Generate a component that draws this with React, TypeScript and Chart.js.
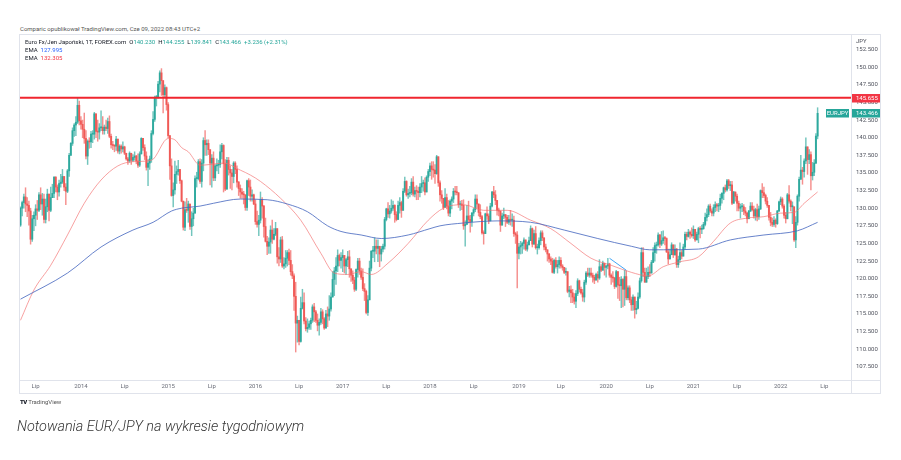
import React, { useEffect, useRef } from 'react';
import { Chart, registerables } from 'chart.js';

Chart.register(...registerables);

// ---------- data (weekly EUR/JPY candles, first week starts 2013-04-29) ----------
const START_UTC = Date.UTC(2013, 3, 29);
const WEEK_MS = 7 * 86400000;
const firstOpen = 127.6;

const closes: number[] = [
  // 2013
  130.0, 130.8, 131.6, 130.6, 130.4, 129.6, 125.6, 128.5, 129.0, 129.9, 129.7, 131.9, 130.6, 131.3, 128.4, 130.2, 132.0, 129.7,
  131.5, 132.1, 134.4, 133.0, 132.3, 133.5, 133.7, 134.5, 133.0, 132.4, 135.3, 137.5, 139.2, 141.0, 141.8, 142.2, 144.6, 142.4,
  // 2014
  141.9, 141.2, 139.9, 137.4, 139.5, 139.4, 140.5, 140.5, 143.4, 140.9, 140.8, 141.4, 141.5, 141.0, 141.5, 141.3, 142.3,
  140.2, 139.0, 138.9, 138.8, 139.8, 138.1, 138.8, 138.4, 138.7, 137.8, 137.0, 136.7, 137.8, 136.8, 137.2, 137.4, 136.7,
  136.1, 137.7, 139.9, 138.6, 137.4, 135.8, 136.4, 137.0, 140.6, 142.6, 145.7, 145.8, 147.6, 149.2, 148.1, 146.1, 147.1, 144.7,
  // 2015
  140.3, 136.0, 131.8, 132.6, 134.8, 135.2, 135.5, 133.9, 131.0, 127.3, 129.8, 129.7, 130.6, 127.4, 128.5, 129.3, 134.2,
  134.2, 136.6, 133.8, 136.4, 139.6, 139.0, 139.2, 138.3, 136.4, 137.1, 134.3, 136.0, 136.1, 136.2, 138.0, 138.9, 136.3,
  132.7, 136.8, 135.5, 135.0, 134.5, 136.4, 135.5, 133.7, 132.8, 132.3, 132.0, 131.9, 130.1, 133.9, 133.0, 131.7, 131.9, 130.6,
  // 2016
  128.1, 127.7, 128.3, 131.2, 130.3, 127.4, 125.3, 124.6, 125.2, 126.9, 125.6, 126.3, 127.1, 123.1, 122.8, 125.5, 121.8,
  122.1, 122.9, 123.7, 122.6, 121.0, 120.4, 117.5, 113.7, 114.1, 111.1, 115.8, 116.6, 114.0, 112.9, 113.1, 113.6, 114.1,
  116.0, 115.3, 114.1, 113.4, 113.8, 115.3, 114.3, 113.0, 115.0, 114.7, 115.7, 117.4, 119.9, 121.1, 121.8, 123.3, 122.6, 123.0,
  // 2017
  123.3, 121.8, 122.7, 123.1, 121.4, 120.5, 119.8, 118.5, 121.3, 122.5, 121.1, 120.2, 118.6, 118.2, 115.2, 117.0, 121.5,
  123.9, 123.9, 124.6, 124.3, 124.6, 123.5, 124.2, 124.6, 128.4, 129.9, 129.2, 129.6, 130.0, 130.4, 129.1, 128.4, 130.4,
  130.8, 129.7, 132.4, 133.8, 131.9, 132.1, 132.2, 133.7, 132.0, 132.5, 132.4, 132.2, 133.0, 133.5, 133.6, 132.3, 134.4, 135.2,
  // 2018
  136.0, 135.5, 135.4, 134.9, 137.3, 133.6, 131.9, 131.4, 130.1, 131.5, 130.3, 129.3, 131.0, 131.3, 132.4, 132.3, 132.2, 130.5,
  130.6, 130.4, 127.5, 127.7, 128.9, 128.4, 128.1, 129.3, 129.8, 131.3, 130.6, 129.4, 128.8, 126.5, 126.4, 129.2, 128.9,
  128.2, 130.3, 132.3, 131.9, 131.1, 129.7, 129.6, 127.6, 128.9, 129.1, 128.7, 128.0, 128.4, 128.3, 128.3, 126.4, 126.2, 123.6,
  // 2019
  124.5, 124.7, 125.0, 125.5, 124.2, 124.8, 125.4, 127.1, 124.9, 126.4, 124.4, 124.4, 125.4, 126.5, 125.8, 124.5, 124.1,
  123.5, 122.8, 122.5, 120.9, 122.6, 121.7, 122.0, 122.6, 121.8, 121.6, 120.9, 121.0, 118.2, 118.4, 118.0, 117.4, 116.8,
  117.9, 119.7, 118.5, 118.0, 117.4, 119.5, 120.8, 120.5, 120.8, 120.5, 120.2, 119.8, 120.6, 120.1, 121.7, 121.2, 122.2, 121.6,
  // 2020
  121.8, 122.1, 120.5, 120.2, 120.1, 118.9, 121.0, 119.1, 119.0, 119.9, 118.5, 120.3, 117.3, 118.7, 117.0, 116.3, 117.4,
  115.6, 115.8, 117.4, 119.7, 123.7, 120.9, 119.5, 120.3, 120.9, 120.8, 122.3, 123.7, 124.7, 124.8, 126.2, 124.9, 125.4,
  125.8, 125.7, 123.8, 122.8, 123.4, 124.8, 123.4, 124.2, 122.0, 122.7, 123.7, 123.2, 124.5, 126.3, 126.0, 126.6, 126.3, 126.1,
  // 2021
  127.0, 125.5, 126.3, 127.1, 127.0, 127.1, 127.7, 128.7, 129.1, 130.3, 129.6, 129.3, 130.1, 130.5, 130.3, 130.4, 131.4,
  132.1, 132.9, 132.6, 133.9, 133.2, 133.3, 130.7, 132.3, 131.7, 130.7, 130.0, 130.2, 130.2, 129.6, 129.3, 128.5, 129.6,
  130.3, 129.8, 128.9, 129.8, 128.8, 129.9, 132.5, 132.2, 131.8, 131.0, 130.4, 128.7, 128.0, 127.7, 128.3, 127.8, 129.6, 130.9,
  // 2022
  131.3, 130.3, 129.0, 128.5, 131.9, 131.0, 130.2, 130.2, 125.5, 128.0, 131.7, 134.1, 135.4, 135.2, 136.7, 138.7, 136.9,
  137.6, 134.6, 135.1, 136.4, 140.23, 143.466,
];

const highs: number[] = [
  // 2013
  130.2, 131.0, 132.0, 132.9, 131.5, 131.0, 130.0, 129.0, 129.5, 130.5, 131.1, 132.2, 132.9, 132.1, 132.0, 131.3, 132.7, 132.0,
  133.0, 133.4, 134.5, 134.5, 133.3, 134.0, 134.8, 135.5, 134.5, 133.5, 135.5, 137.8, 139.3, 141.4, 142.0, 143.0, 145.7, 145.2,
  // 2014
  143.0, 142.5, 143.5, 141.0, 139.7, 140.0, 140.9, 141.0, 143.6, 143.3, 142.5, 142.0, 143.8, 143.0, 141.8, 142.5, 142.8,
  143.1, 140.5, 139.5, 139.0, 140.2, 139.5, 139.0, 139.0, 139.4, 138.8, 137.8, 137.2, 138.0, 137.6, 137.6, 138.0, 137.5,
  137.7, 138.0, 140.0, 139.4, 139.0, 138.0, 136.9, 137.4, 141.0, 143.7, 145.9, 146.0, 148.0, 149.5, 149.8, 147.5, 147.5, 147.2,
  // 2015
  145.0, 140.3, 137.0, 133.6, 136.7, 136.0, 136.8, 135.5, 134.0, 131.0, 130.9, 131.4, 131.0, 130.5, 129.5, 130.0, 134.6,
  135.1, 136.9, 137.0, 136.9, 140.0, 141.0, 139.7, 139.7, 137.0, 137.6, 138.0, 136.2, 137.0, 136.8, 139.0, 139.2, 139.0,
  136.9, 137.2, 137.2, 136.0, 135.5, 136.6, 136.6, 136.0, 133.8, 133.3, 132.8, 132.4, 131.5, 134.0, 134.2, 134.0, 132.6, 132.0,
  // 2016
  131.2, 129.6, 129.0, 132.3, 131.5, 130.4, 128.6, 126.0, 125.8, 127.5, 128.3, 127.1, 128.0, 127.1, 124.4, 125.9, 126.0,
  123.0, 124.0, 124.0, 124.2, 124.0, 122.0, 120.7, 119.5, 114.7, 114.0, 117.4, 118.5, 118.0, 114.5, 114.3, 114.0, 114.4,
  116.3, 116.5, 115.5, 115.0, 114.3, 115.8, 115.6, 114.5, 115.5, 116.0, 117.6, 118.0, 121.0, 121.6, 123.0, 124.1, 123.5, 123.7,
  // 2017
  124.1, 123.0, 122.9, 123.9, 124.0, 121.3, 121.1, 120.2, 121.4, 122.9, 122.9, 121.5, 121.4, 119.3, 118.4, 117.6, 122.5,
  124.0, 124.6, 125.8, 125.5, 125.5, 124.5, 124.6, 124.9, 128.7, 130.0, 130.8, 130.4, 131.2, 131.0, 130.5, 129.5, 131.0,
  131.5, 131.0, 132.8, 134.4, 133.9, 132.7, 133.1, 134.2, 134.5, 133.0, 133.2, 133.0, 133.5, 134.5, 134.0, 134.3, 134.6, 135.5,
  // 2018
  136.4, 136.6, 136.6, 136.2, 137.5, 137.0, 133.9, 132.5, 131.4, 132.8, 132.0, 131.1, 131.2, 131.6, 132.8, 133.1, 133.1, 132.0,
  131.0, 131.1, 131.2, 128.2, 130.4, 131.0, 129.0, 129.4, 130.0, 131.9, 131.9, 130.6, 130.5, 129.0, 126.8, 129.3, 130.2,
  129.2, 130.7, 132.4, 133.1, 132.5, 131.1, 130.0, 129.5, 129.3, 130.0, 129.0, 129.0, 129.0, 129.7, 129.2, 128.9, 126.6, 126.7,
  // 2019
  125.0, 125.3, 125.2, 125.8, 125.2, 125.2, 125.9, 127.5, 127.2, 126.9, 127.4, 124.9, 125.8, 126.8, 126.8, 125.6, 124.9,
  123.9, 123.6, 123.1, 122.9, 122.8, 123.0, 122.6, 123.1, 123.0, 122.0, 121.6, 121.5, 121.0, 118.9, 119.0, 118.5, 117.9,
  118.3, 120.0, 119.8, 118.8, 118.5, 119.8, 121.0, 121.5, 121.5, 121.5, 120.8, 120.5, 120.8, 121.0, 122.7, 122.0, 122.5, 122.2,
  // 2020
  121.9, 122.9, 122.2, 120.7, 121.0, 120.2, 121.2, 121.0, 120.2, 120.3, 120.0, 121.2, 121.1, 119.0, 119.0, 117.4, 117.7,
  116.9, 116.8, 118.0, 120.1, 124.4, 124.4, 121.5, 121.5, 121.7, 122.0, 122.6, 124.4, 125.1, 125.2, 126.5, 126.3, 126.7,
  126.8, 126.0, 125.8, 124.2, 124.2, 125.1, 124.8, 124.8, 124.3, 123.2, 125.1, 124.0, 124.9, 126.6, 126.6, 127.0, 126.8, 127.2,
  // 2021
  127.5, 126.9, 126.6, 127.3, 127.4, 127.6, 128.0, 129.3, 129.9, 130.5, 130.6, 129.9, 130.5, 130.9, 130.7, 130.7, 132.0,
  132.2, 133.0, 133.3, 134.1, 134.1, 133.8, 133.8, 132.4, 132.2, 132.0, 131.0, 130.6, 130.7, 130.5, 130.1, 129.4, 129.7,
  130.8, 130.8, 130.3, 130.0, 130.6, 130.3, 132.6, 133.5, 133.0, 132.0, 131.5, 130.4, 129.4, 128.6, 128.8, 128.5, 129.7, 131.0,
  // 2022
  131.6, 131.5, 130.5, 129.4, 132.1, 133.2, 131.2, 130.9, 130.0, 128.8, 131.9, 134.4, 137.5, 135.8, 137.0, 140.0, 138.6,
  138.3, 138.0, 136.5, 136.9, 140.6, 144.255,
];

const lows: number[] = [
  // 2013
  127.4, 128.9, 130.0, 129.5, 128.8, 127.6, 124.9, 125.3, 126.8, 127.5, 128.4, 129.5, 129.8, 129.0, 127.9, 127.9, 129.5, 128.2,
  129.5, 131.5, 131.5, 132.3, 131.2, 131.7, 133.0, 133.5, 132.5, 130.5, 132.2, 134.5, 137.5, 138.9, 140.2, 140.3, 142.0, 141.8,
  // 2014
  141.2, 140.0, 139.2, 137.0, 136.2, 138.5, 138.6, 139.3, 139.8, 140.0, 139.5, 139.8, 141.0, 140.5, 140.5, 141.0, 140.6,
  140.0, 138.5, 138.3, 138.0, 138.2, 137.8, 137.7, 137.8, 138.0, 137.6, 136.8, 136.2, 136.5, 136.2, 136.6, 136.8, 136.3,
  135.8, 135.9, 137.7, 138.2, 136.9, 135.4, 133.2, 135.5, 136.5, 140.4, 142.3, 144.5, 145.6, 146.5, 146.0, 143.5, 145.8, 143.9,
  // 2015
  140.0, 134.1, 131.7, 130.2, 132.0, 133.5, 134.7, 133.5, 130.9, 126.9, 126.8, 129.4, 128.0, 127.0, 126.1, 127.5, 129.5,
  133.0, 134.0, 133.5, 133.0, 135.3, 137.5, 137.5, 137.6, 133.3, 133.0, 133.9, 133.9, 135.3, 134.9, 135.8, 137.0, 132.3,
  132.5, 133.2, 134.7, 132.8, 132.6, 133.6, 134.9, 133.0, 131.8, 131.4, 131.4, 130.6, 129.7, 129.7, 131.8, 131.0, 131.0, 130.5,
  // 2016
  127.7, 127.3, 126.1, 127.9, 128.6, 125.9, 125.2, 123.4, 123.6, 123.6, 125.0, 125.5, 126.1, 122.2, 121.8, 122.3, 121.6,
  121.4, 121.6, 121.8, 122.0, 120.5, 120.0, 115.5, 109.6, 111.0, 110.6, 111.0, 115.7, 113.6, 112.6, 112.4, 112.8, 112.8,
  113.8, 113.9, 113.8, 112.6, 112.0, 113.5, 113.6, 112.8, 113.7, 113.2, 114.1, 115.4, 117.6, 117.6, 119.2, 121.0, 121.8, 121.5,
  // 2017
  121.0, 120.8, 120.6, 121.7, 120.2, 119.6, 119.3, 118.2, 118.3, 120.2, 120.6, 119.9, 118.3, 116.9, 115.0, 114.8, 119.6,
  121.1, 123.0, 122.4, 123.5, 122.4, 121.7, 122.5, 123.8, 124.2, 128.2, 128.7, 128.6, 129.3, 129.7, 128.0, 128.2, 128.5,
  129.3, 128.7, 129.8, 132.2, 131.7, 131.4, 131.6, 131.9, 131.7, 131.6, 131.2, 131.2, 131.6, 132.2, 132.4, 131.9, 132.5, 133.8,
  // 2018
  134.6, 134.1, 134.4, 133.5, 134.8, 133.1, 131.0, 130.7, 129.8, 130.1, 129.9, 128.9, 128.8, 129.9, 130.8, 131.9, 131.9, 130.1,
  129.7, 129.8, 127.0, 124.6, 127.8, 127.9, 126.6, 127.4, 128.9, 129.5, 130.0, 128.9, 128.5, 126.3, 124.9, 126.4, 128.4,
  127.8, 128.2, 130.2, 131.5, 130.5, 129.0, 128.9, 126.7, 127.8, 128.5, 127.4, 127.8, 127.7, 127.6, 127.4, 126.0, 125.0, 118.7,
  // 2019
  122.8, 123.5, 123.6, 124.2, 124.0, 123.9, 124.9, 125.5, 124.5, 125.0, 124.2, 123.5, 124.2, 124.8, 125.4, 124.1, 123.8,
  122.5, 122.3, 122.0, 120.8, 120.7, 121.5, 120.8, 121.5, 121.5, 121.2, 120.7, 120.5, 118.0, 117.4, 116.6, 116.6, 116.4,
  115.9, 117.6, 118.1, 117.8, 116.8, 116.7, 119.2, 120.3, 120.2, 120.2, 119.5, 119.3, 119.9, 119.5, 119.9, 121.0, 121.2, 120.5,
  // 2020
  120.2, 121.4, 120.2, 119.2, 119.5, 118.6, 118.8, 117.2, 116.9, 115.9, 116.0, 116.2, 117.0, 117.0, 116.6, 115.5, 115.5,
  114.4, 115.0, 115.7, 117.2, 119.5, 120.3, 119.5, 119.5, 120.0, 120.3, 120.9, 122.6, 122.5, 123.6, 124.6, 124.4, 124.7,
  125.0, 124.8, 123.7, 122.1, 122.8, 123.5, 123.0, 123.3, 121.6, 121.6, 122.3, 122.8, 123.3, 124.2, 125.5, 125.9, 125.7, 125.9,
  // 2021
  125.7, 125.3, 125.5, 125.1, 125.8, 126.4, 127.0, 127.5, 128.2, 128.8, 129.4, 128.9, 128.9, 129.5, 129.6, 129.5, 129.8,
  130.7, 131.2, 132.3, 132.4, 132.8, 132.5, 130.5, 130.8, 131.0, 129.6, 129.6, 128.6, 129.5, 129.1, 128.9, 127.9, 128.5,
  129.5, 129.6, 128.6, 128.3, 128.2, 128.4, 129.8, 131.5, 131.5, 130.6, 130.1, 128.3, 127.5, 127.4, 127.4, 127.3, 127.7, 129.5,
  // 2022
  130.5, 130.0, 128.6, 127.9, 128.5, 130.7, 129.6, 127.8, 125.3, 124.4, 127.6, 131.0, 134.3, 133.4, 134.4, 136.3, 134.8,
  136.3, 132.6, 134.0, 134.6, 136.3, 139.841,
];

// EMA lines (week index, value)
const emaLongWeeks = [0, 28, 48, 67, 79, 90, 96, 107, 115, 131, 147, 159, 171, 183, 191, 203, 215, 231, 244, 250, 264, 284, 304, 324, 344, 364, 375, 383, 404, 423, 443, 463, 475];
const emaLongValues = [117.1, 120.8, 124.5, 126.9, 128.0, 129.6, 130.0, 130.3, 130.7, 131.3, 131.2, 130.6, 129.5, 127.5, 126.7, 126.2, 125.7, 126.2, 127.1, 127.5, 127.9, 128.2, 128.0, 126.9, 125.7, 124.6, 124.1, 124.1, 124.2, 125.5, 126.2, 126.8, 127.995];
const emaShortWeeks = [0, 8, 18, 28, 38, 48, 58, 67, 78, 88, 92, 96, 100, 107, 113, 121, 131, 137, 143, 155, 167, 179, 187, 195, 203, 209, 219, 231, 243, 252, 264, 276, 290, 304, 316, 328, 340, 352, 364, 374, 383, 393, 404, 413, 423, 433, 443, 453, 461, 467, 475];
const emaShortValues = [114.1, 118.4, 121.9, 126.2, 130.7, 134.0, 136.0, 136.6, 136.8, 139.9, 139.7, 138.6, 138.0, 136.1, 136.2, 136.4, 135.4, 134.7, 133.8, 131.4, 128.3, 123.6, 120.8, 120.6, 121.0, 120.6, 122.2, 125.0, 128.3, 130.0, 130.5, 129.7, 129.7, 128.3, 127.1, 125.0, 122.9, 121.9, 120.9, 120.4, 121.7, 122.4, 123.1, 125.3, 127.9, 128.6, 128.8, 129.3, 129.4, 130.7, 132.305];

// blue trend line drawn in early 2020
const trendWeeks = [351, 361];
const trendValues = [122.9, 121.2];

// horizontal resistance level
const levelPrice = 145.655;

// axes
const yTickValues = [107.5, 110, 112.5, 115, 117.5, 120, 122.5, 125, 127.5, 130, 132.5, 135, 137.5, 140, 142.5, 145, 147.5, 150, 152.5];
const xTickYears = [2013, 2014, 2015, 2016, 2017, 2018, 2019, 2020, 2021, 2022];
const julyLabel = 'Lip';

const X_MIN = -0.3;
const X_MAX = 494.9;
const Y_MIN = 105.63;
const Y_MAX = 154.57;

const UP = '#26a69a';
const DOWN = '#ef5350';

function weekIndexOf(y: number, m: number) {
  return Math.ceil((Date.UTC(y, m, 1) - START_UTC) / WEEK_MS);
}

export default function App() {
  const ref = useRef<HTMLCanvasElement | null>(null);

  useEffect(() => {
    if (!ref.current) return;
    const opens = closes.map((c, i) => (i === 0 ? firstOpen : closes[i - 1]));
    const isUp = closes.map((c, i) => c >= opens[i]);
    const bodyColors = isUp.map((u) => (u ? 'rgba(38,166,154,0.9)' : 'rgba(239,83,80,0.9)'));
    const wickColors = isUp.map((u) => (u ? 'rgba(38,166,154,0.65)' : 'rgba(239,83,80,0.65)'));
    const wickData = closes.map((c, i) => ({
      x: i,
      y: [Math.min(lows[i], opens[i], c), Math.max(highs[i], opens[i], c)],
    }));
    const bodyData = closes.map((c, i) => ({
      x: i,
      y: [Math.min(opens[i], c), Math.max(opens[i], c)],
    }));

    const xTicks: { v: number; label: string }[] = [];
    xTickYears.forEach((yr) => {
      const j = weekIndexOf(yr, 0);
      if (j >= 0) xTicks.push({ v: j, label: String(yr) });
      xTicks.push({ v: weekIndexOf(yr, 6), label: julyLabel });
    });
    const labelMap: Record<number, string> = {};
    xTicks.forEach((t) => (labelMap[t.v] = t.label));

    const lastClose = closes[closes.length - 1];

    const overlay = {
      id: 'tvOverlay',
      afterDraw(chart: any) {
        const ctx = chart.ctx as CanvasRenderingContext2D;
        const { left, right, top, bottom } = chart.chartArea;
        const ys = chart.scales.y;
        const outerRight = right + 29;
        const outerBottom = bottom + 13;
        ctx.save();
        ctx.strokeStyle = '#e0e3eb';
        ctx.lineWidth = 1;
        ctx.strokeRect(left - 0.5, top - 0.5, outerRight - left + 1, outerBottom - top + 1);
        ctx.beginPath();
        ctx.moveTo(right + 0.5, top);
        ctx.lineTo(right + 0.5, outerBottom);
        ctx.moveTo(left, bottom + 0.5);
        ctx.lineTo(outerRight, bottom + 0.5);
        ctx.stroke();

        const tag = (x1: number, x2: number, value: number, bg: string, text: string, center = false) => {
          const y = ys.getPixelForValue(value);
          ctx.fillStyle = bg;
          ctx.fillRect(x1, Math.round(y) - 4, x2 - x1, 8.5);
          ctx.fillStyle = '#ffffff';
          ctx.font = '6px Roboto';
          ctx.textBaseline = 'middle';
          if (center) {
            ctx.textAlign = 'center';
            ctx.fillText(text, (x1 + x2) / 2, Math.round(y) + 0.5);
          } else {
            ctx.textAlign = 'left';
            ctx.fillText(text, x1 + 4, Math.round(y) + 0.5);
          }
        };
        tag(right + 1, outerRight, levelPrice, '#f23645', levelPrice.toFixed(3));
        tag(right - 25, right - 2, lastClose, UP, 'EURJPY', true);
        tag(right + 1, outerRight, lastClose, UP, lastClose.toFixed(3));
        ctx.restore();
      },
    };

    const chart = new Chart(ref.current, {
      type: 'bar',
      data: {
        datasets: [
          {
            type: 'line',
            label: 'level',
            data: [
              { x: X_MIN, y: levelPrice },
              { x: X_MAX, y: levelPrice },
            ],
            borderColor: '#f0262f',
            borderWidth: 2,
            pointRadius: 0,
            order: 0,
          } as any,
          {
            type: 'line',
            label: 'trend',
            data: trendWeeks.map((w, k) => ({ x: w, y: trendValues[k] })),
            borderColor: '#42a5f5',
            borderWidth: 1,
            pointRadius: 0,
            order: 1,
          } as any,
          {
            type: 'line',
            label: 'EMA long',
            data: emaLongWeeks.map((w, k) => ({ x: w, y: emaLongValues[k] })),
            borderColor: 'rgba(66,100,190,0.8)',
            borderWidth: 1,
            pointRadius: 0,
            cubicInterpolationMode: 'monotone',
            order: 2,
          } as any,
          {
            type: 'line',
            label: 'EMA short',
            data: emaShortWeeks.map((w, k) => ({ x: w, y: emaShortValues[k] })),
            borderColor: 'rgba(242,110,110,0.65)',
            borderWidth: 1,
            pointRadius: 0,
            cubicInterpolationMode: 'monotone',
            order: 2,
          } as any,
          {
            type: 'bar',
            label: 'bodies',
            data: bodyData,
            backgroundColor: bodyColors,
            barThickness: 1.3,
            minBarLength: 1,
            grouped: false,
            order: 3,
          } as any,
          {
            type: 'bar',
            label: 'wicks',
            data: wickData,
            backgroundColor: wickColors,
            barThickness: 0.8,
            grouped: false,
            order: 4,
          } as any,
        ],
      },
      options: {
        animation: false,
        responsive: false,
        maintainAspectRatio: false,
        events: [],
        layout: { padding: { left: 20, top: 35, right: 21, bottom: 7 } },
        plugins: { legend: { display: false }, tooltip: { enabled: false } },
        scales: {
          x: {
            type: 'linear',
            min: X_MIN,
            max: X_MAX,
            offset: false,
            grid: { display: false, drawTicks: false },
            border: { display: false },
            afterBuildTicks: (s: any) => {
              s.ticks = xTicks.map((t) => ({ value: t.v }));
            },
            afterFit: (s: any) => {
              s.height = 13;
            },
            ticks: {
              autoSkip: false,
              maxRotation: 0,
              minRotation: 0,
              padding: 3,
              color: '#6a6d78',
              font: { size: 6, family: 'Roboto' },
              callback: (v: any) => labelMap[Number(v)] ?? '',
            },
          },
          y: {
            type: 'linear',
            position: 'right',
            min: Y_MIN,
            max: Y_MAX,
            beginAtZero: false,
            grid: { display: false, drawTicks: false },
            border: { display: false },
            afterBuildTicks: (s: any) => {
              s.ticks = yTickValues.map((v) => ({ value: v }));
            },
            afterFit: (s: any) => {
              s.width = 29;
            },
            ticks: {
              padding: 5,
              color: '#50535e',
              font: { size: 6, family: 'Roboto' },
              callback: (v: any) => Number(v).toFixed(3),
            },
          },
        },
      } as any,
      plugins: [overlay],
    });
    return () => chart.destroy();
  }, []);

  const small: React.CSSProperties = {
    position: 'absolute',
    fontSize: 6,
    lineHeight: '8px',
    whiteSpace: 'nowrap',
    fontFamily: 'Roboto, sans-serif',
  };
  const teal = { color: UP };

  return (
    <div style={{ position: 'fixed', left: 0, top: 0, width: 901, height: 460, background: '#ffffff', overflow: 'hidden' }}>
      <div style={{ ...small, left: 20, top: 25, color: '#555' }}>
        Comparic opublikował TradingView.com, Cze 09, 2022 08:43 UTC+2
      </div>
      <canvas ref={ref} width={901} height={400} style={{ position: 'absolute', left: 0, top: 0, width: 901, height: 400 }} />
      <div style={{ ...small, left: 25, top: 38, color: '#131722' }}>
        Euro Fx/Jen Japoński, 1T, FOREX.com&nbsp;&nbsp;O<span style={teal}>140.230</span>&nbsp;&nbsp;H<span style={teal}>144.255</span>&nbsp;&nbsp;L<span style={teal}>139.841</span>&nbsp;&nbsp;C<span style={teal}>143.466</span>&nbsp;&nbsp;<span style={teal}>+3.236 (+2.31%)</span>
      </div>
      <div style={{ ...small, left: 25, top: 46, color: '#131722' }}>
        EMA&nbsp;&nbsp;<span style={{ color: '#2962ff' }}>127.995</span>
      </div>
      <div style={{ ...small, left: 25, top: 54, color: '#131722' }}>
        EMA&nbsp;&nbsp;<span style={{ color: '#f23645' }}>132.305</span>
      </div>
      <div style={{ ...small, left: 856, top: 37, color: '#50535e' }}>JPY</div>
      <div style={{ ...small, left: 20, top: 398, color: '#555' }}>
        <span style={{ fontWeight: 900, color: '#131722', letterSpacing: '-0.5px' }}>TV</span>&nbsp;TradingView
      </div>
      <div
        style={{
          position: 'absolute',
          left: 17,
          top: 418,
          fontSize: 14.4,
          lineHeight: '18px',
          fontStyle: 'italic',
          fontWeight: 300,
          color: '#333',
          whiteSpace: 'nowrap',
          fontFamily: 'Roboto, sans-serif',
        }}
      >
        Notowania EUR/JPY na wykresie tygodniowym
      </div>
    </div>
  );
}
